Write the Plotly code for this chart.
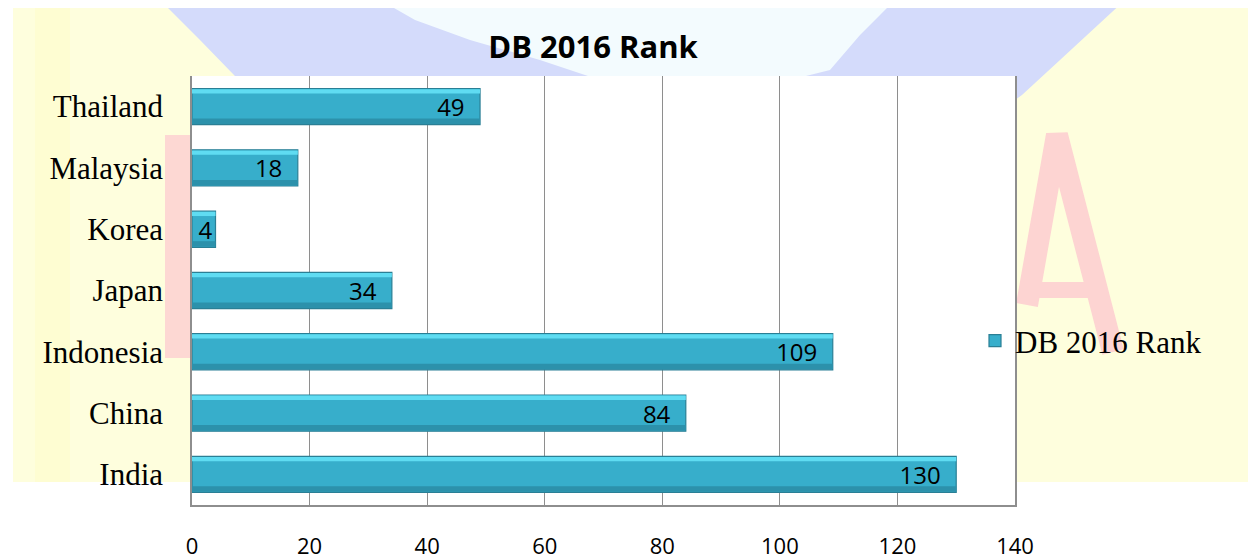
import plotly.graph_objects as go

# ---- data ----
countries = ["India", "China", "Indonesia", "Japan", "Korea", "Malaysia", "Thailand"]
rank_2016 = [130, 84, 109, 34, 4, 18, 49]
series_name = "DB 2016 Rank"
chart_title = "DB 2016 Rank"
x_ticks = [0, 20, 40, 60, 80, 100, 120, 140]

# ---- geometry (screen pixels; page body has an 8px margin) ----
OFF = 8
SCREEN_W, SCREEN_H = 1256, 559
W, H = SCREEN_W - OFF, SCREEN_H - OFF
L, R, T, B = 192, 1015, 76, 505
PW, PH = R - L, B - T


def px(x):
    return (x - L) / PW


def py(y):
    return (B - y) / PH


def path(points, close=True):
    s = "M " + " L ".join(f"{px(x):.4f},{py(y):.4f}" for x, y in points)
    return s + (" Z" if close else "")


shapes = []
# pale yellow slide background
shapes.append(dict(type="rect", xref="paper", yref="paper", layer="below",
                   x0=px(13), x1=px(SCREEN_W + 5), y0=py(482), y1=py(0),
                   fillcolor="#FEFEDD", line_width=0))
shapes.append(dict(type="rect", xref="paper", yref="paper", layer="below",
                   x0=px(35), x1=px(70), y0=py(482), y1=py(0),
                   fillcolor="#FEFDD2", line_width=0))
# blue globe-like watermark at top
shapes.append(dict(type="path", xref="paper", yref="paper", layer="below",
                   path=path([(160, 0), (1125, 0), (1060, 60), (1022, 95), (1015, 100),
                              (300, 100), (235, 76), (200, 40)]),
                   fillcolor="#D4DBFB", line_width=0))
shapes.append(dict(type="path", xref="paper", yref="paper", layer="below",
                   path=path([(380, 0), (895, 0), (860, 35), (830, 70), (790, 80),
                              (600, 80), (540, 60), (470, 40), (415, 20)]),
                   fillcolor="#F3FBFE", line_width=0))
# pink letter fragments
shapes.append(dict(type="rect", xref="paper", yref="paper", layer="below",
                   x0=px(165), x1=px(192), y0=py(358), y1=py(135),
                   fillcolor="#FDD8D3", line_width=0))
shapes.append(dict(type="path", xref="paper", yref="paper", layer="below",
                   path=path([(1027, 305), (1057, 135), (1113, 352)], close=False),
                   line=dict(color="#FDD4D2", width=22), fillcolor="rgba(0,0,0,0)"))
shapes.append(dict(type="path", xref="paper", yref="paper", layer="below",
                   path=path([(1025, 290), (1097, 290)], close=False),
                   line=dict(color="#FDD4D2", width=16), fillcolor="rgba(0,0,0,0)"))
# white plot area
shapes.append(dict(type="rect", xref="paper", yref="paper", layer="below",
                   x0=0, x1=1, y0=0, y1=1, fillcolor="white", line_width=0))

fig = go.Figure()

BAR_W = 0.59
labels = [f"{v}\u00a0\u00a0" if v >= 10 else f"{v}" for v in rank_2016]
# main bar body
fig.add_trace(go.Bar(
    y=countries, x=rank_2016, orientation="h", name=series_name,
    width=BAR_W, offset=-BAR_W / 2,
    marker=dict(color="#37AECB", line=dict(color="#2A7F95", width=1.2)),
    text=labels, texttemplate="%{text}", textposition="inside",
    insidetextanchor="end", constraintext="none",
    textfont=dict(family="Open Sans", size=24, color="black"),
    showlegend=True, hoverinfo="x+y",
))
# lower darker band (bevel shading)
fig.add_trace(go.Bar(
    y=countries, x=rank_2016, orientation="h", showlegend=False,
    width=0.09, offset=-BAR_W / 2 + 0.01,
    marker=dict(color="#2C91AB", line_width=0), hoverinfo="skip",
))
# upper light highlight
fig.add_trace(go.Bar(
    y=countries, x=rank_2016, orientation="h", showlegend=False,
    width=0.07, offset=BAR_W / 2 - 0.08,
    marker=dict(color="#5FDCF2", line_width=0), hoverinfo="skip",
))

fig.update_layout(
    width=W, height=H,
    margin=dict(l=L - OFF, r=SCREEN_W - R, t=T - OFF, b=SCREEN_H - B, pad=0,
                autoexpand=False),
    paper_bgcolor="white", plot_bgcolor="rgba(0,0,0,0)",
    barmode="overlay",
    shapes=shapes,
    title=dict(text=f"<b>{chart_title}</b>", x=px(593), xref="paper", xanchor="center",
               y=1 - (47 - OFF) / H, yanchor="middle",
               font=dict(family="Open Sans", size=31, color="black")),
    legend=dict(x=px(975), y=py(341), xanchor="left", yanchor="middle",
                bgcolor="rgba(0,0,0,0)",
                font=dict(family="Liberation Serif", size=31, color="black"),
                traceorder="normal"),
    showlegend=True,
    font=dict(family="Open Sans", color="black"),
)

fig.update_xaxes(
    range=[0, 140], tickvals=x_ticks, ticktext=[str(v) for v in x_ticks],
    showgrid=True, gridcolor="#8E8E8E", gridwidth=1.3,
    showline=True, linecolor="#8E8E8E", linewidth=1.5,
    zeroline=False, ticks="", ticklabelstandoff=21, automargin=False,
    tickfont=dict(family="Open Sans", size=22, color="black"),
)
fig.update_yaxes(
    categoryorder="array", categoryarray=countries,
    showgrid=False, showline=True, mirror=True, linecolor="#8E8E8E", linewidth=1.5,
    ticks="", ticklabelstandoff=21, automargin=False,
    tickfont=dict(family="Liberation Serif", size=31, color="black"),
)

fig.write_html("out.html")
